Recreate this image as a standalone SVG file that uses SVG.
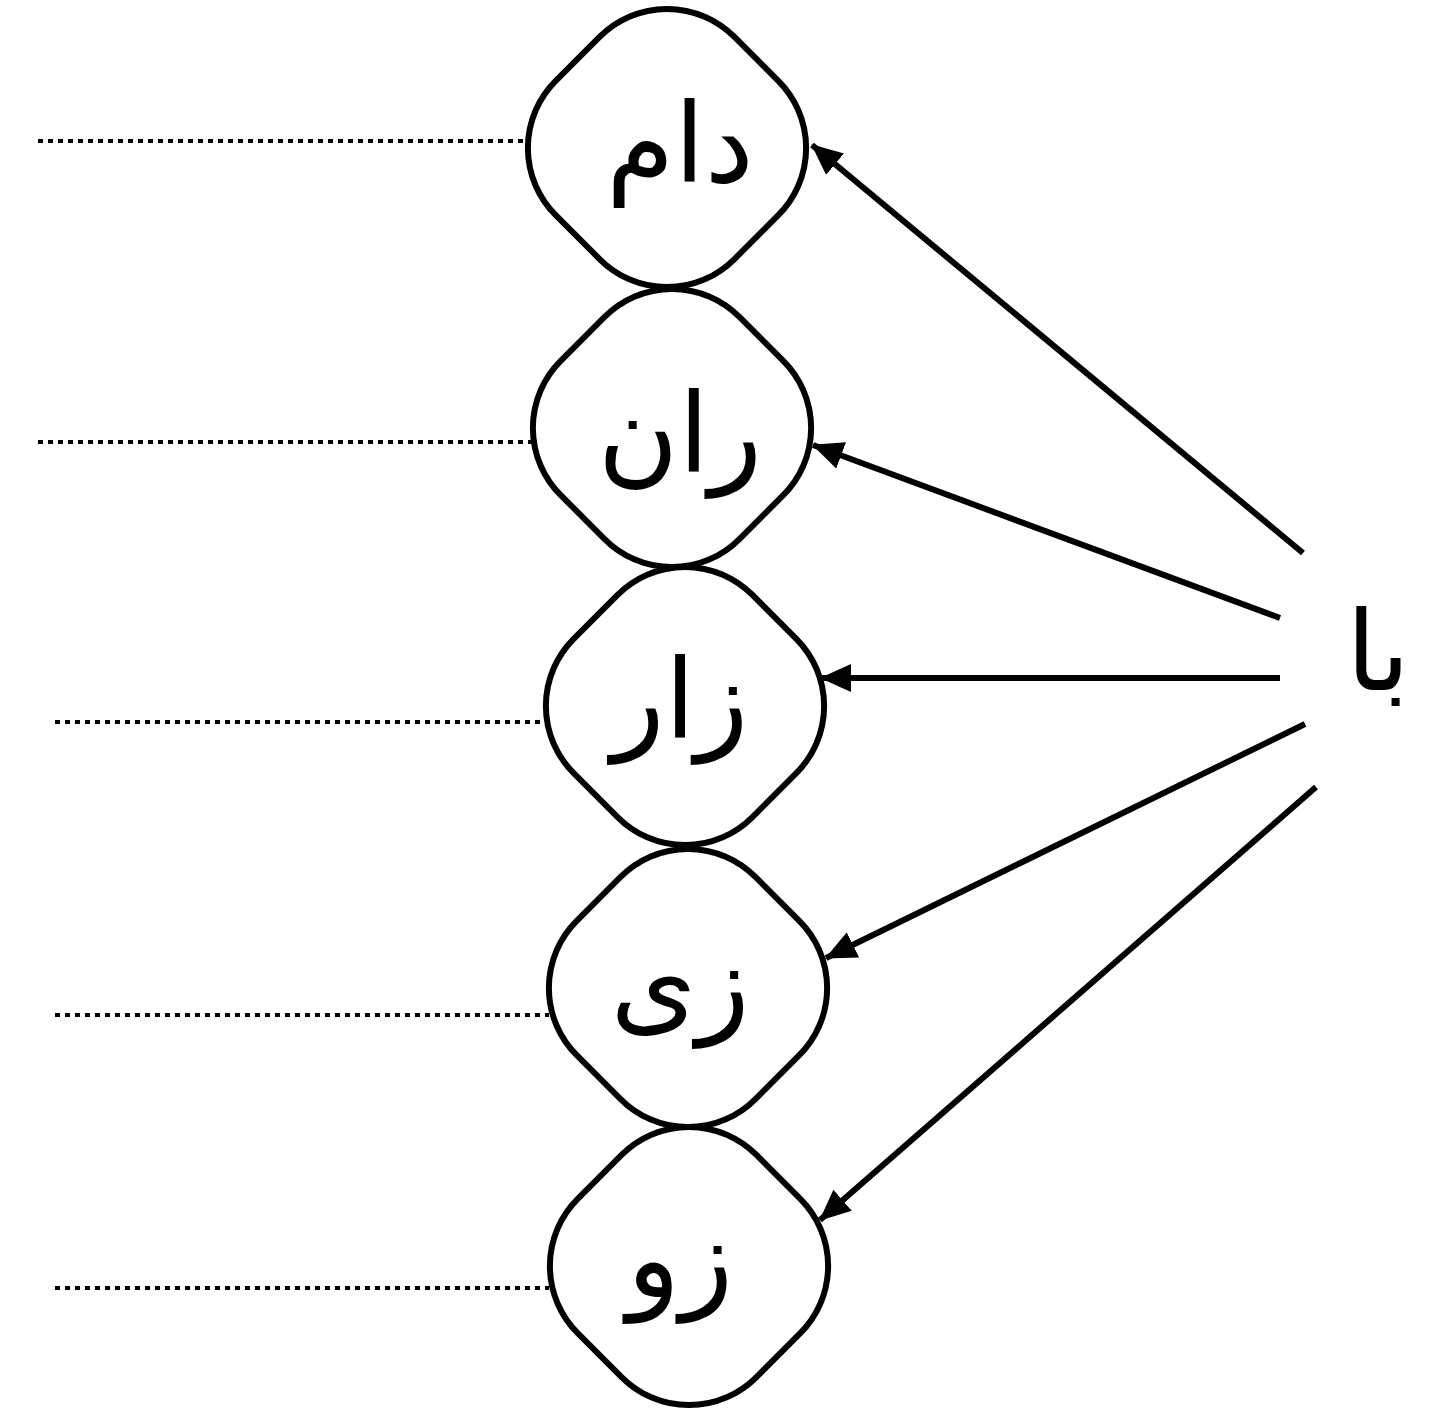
<svg xmlns="http://www.w3.org/2000/svg" width="1432" height="1414" viewBox="0 0 1432 1414">
<style>
.node{fill:#fff;stroke:#000;stroke-width:6}
.lbl{font-family:"DejaVu Sans",sans-serif;font-size:110px;fill:#000;text-anchor:middle}
.dot{stroke:#000;stroke-width:4;stroke-dasharray:5 5;fill:none}
.arr{stroke:#000;stroke-width:6;fill:none;marker-end:url(#ah)}
</style>
<defs>
<marker id="ah" markerUnits="userSpaceOnUse" markerWidth="32" markerHeight="30" refX="30" refY="14" orient="auto" viewBox="0 0 32 30">
<path d="M0,0 L31,14 L0,28 z" fill="#000"/>
</marker>
<rect id="dia" x="-126.2" y="-126.2" width="252.4" height="252.4" rx="95" ry="95"/>
</defs>
<rect width="1432" height="1414" fill="#fff"/>
<g id="connectors">
<line class="dot" x1="38" y1="141" x2="528" y2="141"/>
<line class="dot" x1="38" y1="442" x2="532" y2="442"/>
<line class="dot" x1="55" y1="722" x2="545" y2="722"/>
<line class="dot" x1="55" y1="1015" x2="549" y2="1015"/>
<line class="dot" x1="55" y1="1288" x2="549" y2="1288"/>
<line class="arr" x1="1303" y1="553" x2="812" y2="145"/>
<line class="arr" x1="1280" y1="618" x2="813" y2="445"/>
<line class="arr" x1="1280" y1="678" x2="821" y2="678"/>
<line class="arr" x1="1305" y1="724" x2="826" y2="958"/>
<line class="arr" x1="1316" y1="787" x2="820" y2="1220"/>
</g>
<g id="n1"><use href="#dia" class="node" transform="translate(667,148) rotate(45)"/><text class="lbl" x="680" y="182">دام</text></g>
<g id="n2"><use href="#dia" class="node" transform="translate(672,428) rotate(45)"/><text class="lbl" x="680" y="472">ران</text></g>
<g id="n3"><use href="#dia" class="node" transform="translate(685,706) rotate(45)"/><text class="lbl" x="680" y="738">زار</text></g>
<g id="n4"><use href="#dia" class="node" transform="translate(688,988) rotate(45)"/><text class="lbl" x="680" y="1022">زی</text></g>
<g id="n5"><use href="#dia" class="node" transform="translate(689,1266) rotate(45)"/><text class="lbl" x="680" y="1297">زو</text></g>
<g id="src"><text class="lbl" x="1378" y="690" font-size="115">با</text></g>
</svg>
